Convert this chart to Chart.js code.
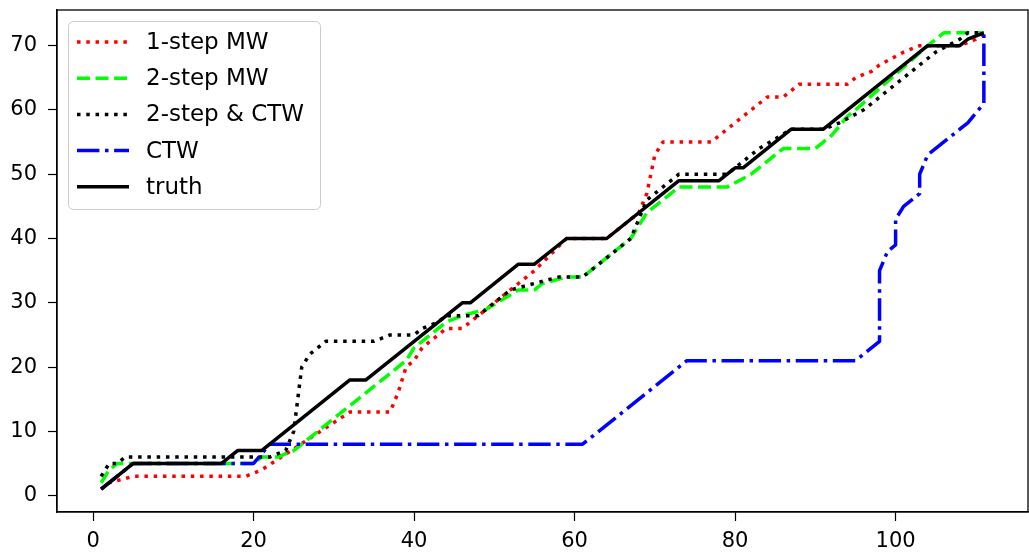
<!DOCTYPE html>
<html>
<head>
<meta charset="utf-8">
<script src="https://cdn.jsdelivr.net/npm/chart.js@4.4.1/dist/chart.umd.min.js"></script>
<style>
  html, body { margin: 0; padding: 0; background: #fff; }
  #wrap { width: 1029px; height: 559px; }
</style>
</head>
<body>
<div id="wrap"><canvas id="myChart" width="1029" height="559"></canvas></div>
<script>
const seriesNames = ['1-step MW', '2-step MW', '2-step & CTW', 'CTW', 'truth'];
const xTicks = [0, 20, 40, 60, 80, 100];
const yTicks = [0, 10, 20, 30, 40, 50, 60, 70];

// vertices (x, y)
const oneStepX = [1, 2, 5, 19, 21, 32, 37, 38, 39, 40, 41, 43, 44, 46, 47, 49, 53, 54, 55, 59, 64, 68, 69, 70, 71, 77, 78, 82, 84, 86, 88, 94, 95, 97, 98, 101, 103, 108, 110, 111];
const oneStepY = [1, 2, 3, 3, 4, 13, 13, 16, 20, 21, 23, 25, 26, 26, 27, 29, 33, 34, 35, 40, 40, 44, 47, 53, 55, 55, 56, 60, 62, 62, 64, 64, 65, 66, 67, 69, 70, 70, 71, 72];

const twoStepX = [1, 2, 3, 20, 21, 23, 25, 39, 40, 41, 44, 46, 49, 53, 55, 56, 59, 61, 63, 67, 68, 69, 73, 79, 82, 86, 90, 92, 94, 95, 104, 106, 111];
const twoStepY = [2, 4, 5, 5, 6, 6, 7, 21, 23, 24, 27, 28, 29, 32, 32, 33, 34, 34, 36, 40, 42, 44, 48, 48, 50, 54, 54, 56, 59, 60, 70, 72, 72];

const twoCtwX = [1, 2, 3, 4, 22, 24, 25, 26, 27, 29, 35, 37, 40, 41, 43, 44, 48, 50, 52, 55, 58, 61, 63, 67, 68, 69, 70, 72, 73, 79, 81, 83, 87, 91, 93, 96, 97, 105, 108, 109, 111];
const twoCtwY = [3, 5, 5, 6, 6, 7, 10, 20, 22, 24, 24, 25, 25, 26, 27, 28, 28, 30, 32, 33, 34, 34, 36, 40, 43, 46, 47, 49, 50, 50, 52, 54, 57, 57, 58, 60, 61, 69, 71, 72, 72];

const ctwX = [1, 5, 17, 20, 22, 61, 74, 95, 98, 98, 99, 100, 100, 101, 103, 103, 104, 108, 109, 111, 111];
const ctwY = [1, 5, 5, 5, 8, 8, 21, 21, 24, 35, 38, 39, 43, 45, 47, 50, 53, 57, 58, 61, 72];

const truthX = [1, 5, 16, 18, 21, 32, 34, 46, 47, 53, 55, 59, 64, 73, 78, 80, 81, 87, 91, 104, 108, 109, 111];
const truthY = [1, 5, 5, 7, 7, 18, 18, 30, 30, 36, 36, 40, 40, 49, 49, 51, 51, 57, 57, 70, 70, 71, 72];

const colors = ['#ff0000', '#00ff00', '#000000', '#0000ff', '#000000'];
const lw = 3.5;
const dashes = [
  [lw, lw * 1.65],
  [lw * 3.7, lw * 1.6],
  [lw, lw * 1.65],
  [lw * 6.4, lw * 1.6, lw, lw * 1.6],
  []
];

function pts(xs, ys) {
  return xs.map((x, i) => ({ x: x, y: ys[i] }));
}
const allX = [oneStepX, twoStepX, twoCtwX, ctwX, truthX];
const allY = [oneStepY, twoStepY, twoCtwY, ctwY, truthY];

const FONT = "'DejaVu Sans', sans-serif";

const frame = {
  id: 'frame',
  afterDraw: (chart) => {
    const ctx = chart.ctx;
    const a = chart.chartArea;
    ctx.save();
    ctx.strokeStyle = '#000';
    ctx.lineWidth = 1.3;
    ctx.strokeRect(a.left, a.top, a.right - a.left, a.bottom - a.top);

    // matplotlib-like legend
    const bx = 68.5, by = 21.5, bw = 252, bh = 188, r = 5;
    ctx.fillStyle = 'rgba(255,255,255,0.8)';
    ctx.strokeStyle = '#cccccc';
    ctx.lineWidth = 1;
    ctx.beginPath();
    ctx.roundRect(bx, by, bw, bh, r);
    ctx.fill();
    ctx.stroke();
    ctx.font = '23px ' + FONT;
    ctx.textBaseline = 'middle';
    ctx.textAlign = 'left';
    for (let i = 0; i < seriesNames.length; i++) {
      const yy = 42 + i * 36.2;
      ctx.beginPath();
      ctx.strokeStyle = colors[i];
      ctx.lineWidth = lw;
      ctx.lineCap = 'butt';
      ctx.setLineDash(dashes[i]);
      ctx.moveTo(77, yy);
      ctx.lineTo(129, yy);
      ctx.stroke();
      ctx.setLineDash([]);
      ctx.fillStyle = '#000';
      ctx.fillText(seriesNames[i], 146, yy + 1);
    }
    ctx.restore();
  },
  beforeDraw: (chart) => {
    const ctx = chart.ctx;
    ctx.save();
    ctx.fillStyle = '#fff';
    ctx.fillRect(0, 0, chart.width, chart.height);
    ctx.restore();
  }
};

const ctx = document.getElementById('myChart').getContext('2d');
new Chart(ctx, {
  type: 'line',
  data: {
    datasets: seriesNames.map((name, i) => ({
      label: name,
      data: pts(allX[i], allY[i]),
      borderColor: colors[i],
      borderWidth: lw,
      borderDash: dashes[i],
      borderCapStyle: 'butt',
      borderJoinStyle: 'round',
      pointRadius: 0,
      fill: false,
      tension: 0,
      order: seriesNames.length - i
    }))
  },
  plugins: [frame],
  options: {
    responsive: false,
    animation: false,
    devicePixelRatio: 1,
    layout: { padding: { top: 10, right: 1, left: 0, bottom: 0 } },
    plugins: {
      legend: { display: false },
      tooltip: { enabled: false }
    },
    scales: {
      x: {
        type: 'linear',
        min: -4.5,
        max: 116.5,
        afterBuildTicks: (axis) => { axis.ticks = xTicks.map(v => ({ value: v })); },
        afterFit: (axis) => {
          axis.height = 47;
          axis.paddingLeft = 0;
          axis.paddingRight = 0;
        },
        ticks: { color: '#000', font: { family: FONT, size: 21 }, padding: 8, maxRotation: 0 },
        grid: { drawOnChartArea: false, drawTicks: true, tickLength: 9, color: '#000', tickWidth: 1.2 },
        border: { display: true, color: '#000', width: 1.3 }
      },
      y: {
        type: 'linear',
        min: -2.55,
        max: 75.55,
        afterBuildTicks: (axis) => { axis.ticks = yTicks.map(v => ({ value: v })); },
        afterFit: (axis) => {
          axis.width = 57;
          axis.paddingTop = 0;
          axis.paddingBottom = 0;
        },
        ticks: { color: '#000', font: { family: FONT, size: 21 }, padding: 11 },
        grid: { drawOnChartArea: false, drawTicks: true, tickLength: 9, color: '#000', tickWidth: 1.2 },
        border: { display: true, color: '#000', width: 1.3 }
      }
    }
  }
});
</script>
</body>
</html>
